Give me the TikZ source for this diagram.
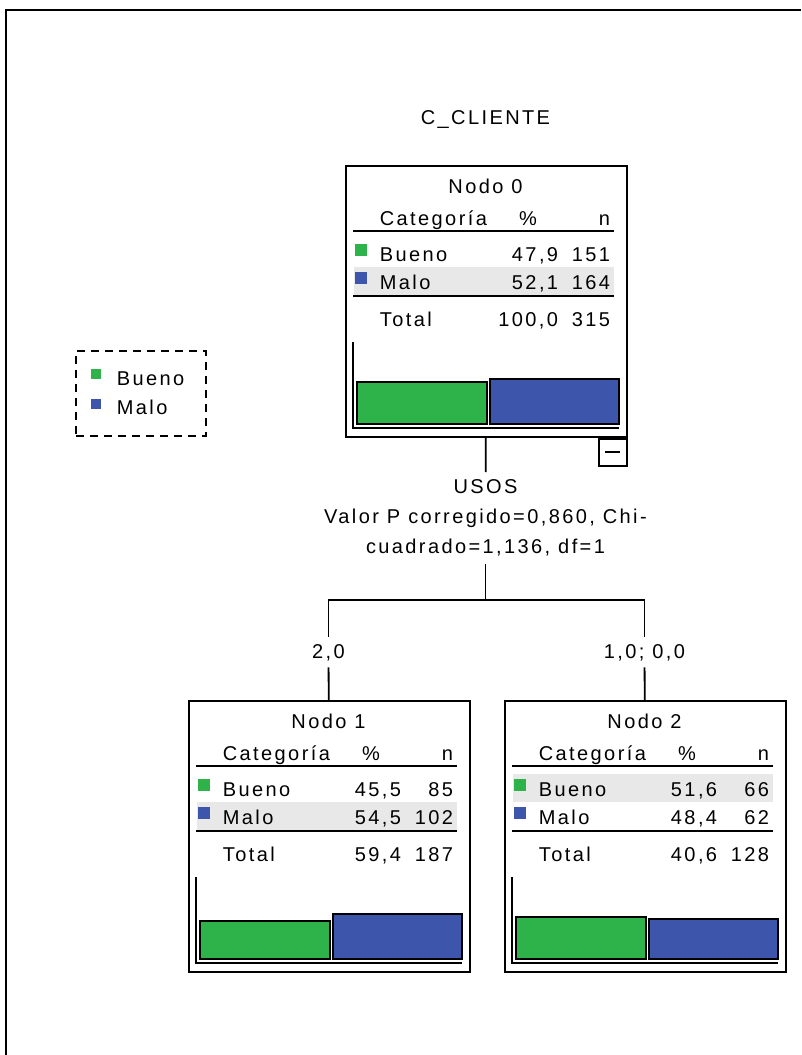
\documentclass[tikz,border=0pt]{standalone}
\usepackage{fontspec}
\setmainfont{Liberation Sans}[LetterSpace=12]
\usepackage{tikz}
\usetikzlibrary{positioning}
\definecolor{bueno}{HTML}{2EB34B}
\definecolor{malo}{HTML}{3D55AA}
\definecolor{rowgray}{HTML}{E8E8E8}

\begin{document}
\begin{tikzpicture}[x=1pt,y=-1pt,line width=1.8pt,every node/.style={font=\fontsize{20}{30}\selectfont,inner sep=0pt},box/.style={draw,minimum width=281pt,minimum height=271pt,anchor=north west},lab/.style={anchor=base west},num/.style={anchor=base east},bar/.style={draw,line width=2pt}]
\useasboundingbox (0,0) rectangle (801,1055);
\draw[line width=2pt] (6,1055) -- (6,10) -- (801,10);
\node[anchor=base] (title) at (485.5,124) {C\_CLIENTE};
% legend
\node[draw,dash pattern=on 8pt off 6pt,minimum width=130pt,minimum height=85pt,anchor=north west] (leg) at (75,350) {};
\fill[bueno] (91,369) rectangle (101,379);
\fill[malo] (91,399) rectangle (101,409);
\node[lab] (leg-b) at (116,385) {Bueno};
\node[lab] (leg-m) at (116,414) {Malo};
% the three nodes
\foreach \nm/\px/\py/\ttl/\bpc/\bnn/\mpc/\mnn/\tpc/\tnn/\gh/\bh/\hrow in {n0/345/165/Nodo 0/{47,9}/151/{52,1}/164/{100,0}/315/42/45/124,n1/188/700/Nodo 1/{45,5}/85/{54,5}/102/{59,4}/187/38/45/124,n2/504/700/Nodo 2/{51,6}/66/{48,4}/62/{40,6}/128/42/40/96}{
\node[box] (\nm) at (\px,\py) {};
\begin{scope}[shift={(\px,\py)}]
\fill[rowgray] (9,\hrow-22) rectangle (269,\hrow+6);
\node[anchor=base] (\nm-t) at (140.5,28) {\ttl};
\node[lab] (\nm-c) at (34,60) {Categoría};
\node[anchor=base] (\nm-p) at (183,60) {\%};
\node[num] (\nm-n) at (266,60) {n};
\draw (8,66) -- (269,66);
\fill[bueno] (10,79) rectangle (22,91);
\node[lab] (\nm-b) at (34,96) {Bueno};
\node[num] (\nm-bp) at (214,96) {\bpc};
\node[num] (\nm-bn) at (266,96) {\bnn};
\fill[malo] (10,107) rectangle (22,119);
\node[lab] (\nm-m) at (34,124) {Malo};
\node[num] (\nm-mp) at (214,124) {\mpc};
\node[num] (\nm-mn) at (266,124) {\mnn};
\draw (8,131) -- (269,131);
\node[lab] (\nm-s) at (34,161) {Total};
\node[num] (\nm-sp) at (214,161) {\tpc};
\node[num] (\nm-sn) at (266,161) {\tnn};
\draw (8,177) |- (274,263);
\draw[bar,fill=bueno] (12,259-\gh) rectangle (142,259);
\draw[bar,fill=malo] (145,259-\bh) rectangle (274,259);
\end{scope}
}
\node[draw,minimum width=28pt,minimum height=27pt,anchor=north east] (n0x) at (n0.south east) {\rule{15pt}{2pt}};
% split
\node[inner sep=7pt,align=center,anchor=north] (sp) at (485.5,472) {USOS\\Valor P corregido=0,860, Chi-\\cuadrado=1,136, df=1};
\coordinate (fork) at (485.5,600);
\node[anchor=base,inner ysep=6pt] (e1) at (328.5,658) {2,0};
\node[anchor=base,inner ysep=6pt] (e2) at (644.5,658) {1,0; 0,0};
\draw (n0) -- (sp);
\draw (sp) -- (fork);
\draw (fork) -| (e1);
\draw (fork) -| (e2);
\draw (e1) -- (n1);
\draw (e2) -- (n2);
\end{tikzpicture}
\end{document}
